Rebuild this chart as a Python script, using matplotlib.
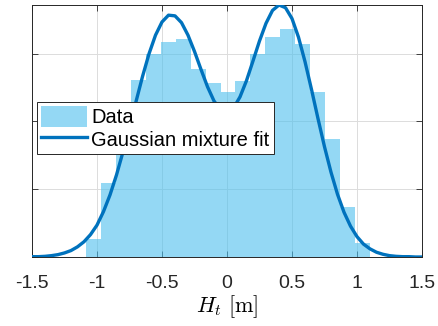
import numpy as np
import matplotlib
matplotlib.use("Agg")
import matplotlib.pyplot as plt

# histogram (probability density), 19 equal bins
bin_start = -1.085
bin_width = 0.115
density = [0.053, 0.217, 0.387, 0.522, 0.598, 0.633, 0.642, 0.554, 0.513, 0.487,
           0.519, 0.598, 0.648, 0.672, 0.628, 0.487, 0.349, 0.147, 0.041]

# Gaussian mixture fit, every 0.05 m
fit_x = [-1.50, -1.45, -1.40, -1.35, -1.30, -1.25, -1.20, -1.15, -1.10, -1.05,
         -1.00, -0.95, -0.90, -0.85, -0.80, -0.75, -0.70, -0.65, -0.60, -0.55,
         -0.50, -0.45, -0.40, -0.35, -0.30, -0.25, -0.20, -0.15, -0.10, -0.05,
         0.00, 0.05, 0.10, 0.15, 0.20, 0.25, 0.30, 0.35, 0.40, 0.45,
         0.50, 0.55, 0.60, 0.65, 0.70, 0.75, 0.80, 0.85, 0.90, 0.95,
         1.00, 1.05, 1.10, 1.15, 1.20, 1.25, 1.30, 1.35, 1.40, 1.45, 1.50]
fit_y = [0.001, 0.001, 0.002, 0.004, 0.007, 0.012, 0.019, 0.030, 0.045, 0.066,
         0.094, 0.134, 0.183, 0.242, 0.310, 0.383, 0.458, 0.532, 0.599, 0.654,
         0.693, 0.713, 0.711, 0.691, 0.654, 0.606, 0.553, 0.502, 0.460, 0.434,
         0.426, 0.439, 0.472, 0.520, 0.578, 0.637, 0.689, 0.727, 0.743, 0.735,
         0.703, 0.648, 0.576, 0.494, 0.408, 0.325, 0.250, 0.185, 0.132, 0.091,
         0.060, 0.038, 0.024, 0.014, 0.008, 0.004, 0.002, 0.001, 0.001, 0.000, 0.000]

x_ticks = [-1.5, -1, -0.5, 0, 0.5, 1, 1.5]
x_labels = ["-1.5", "-1", "-0.5", "0", "0.5", "1", "1.5"]
y_ticks = [0, 0.2, 0.4, 0.6]

plt.rcParams["font.family"] = ["Liberation Sans", "DejaVu Sans"]
plt.rcParams["mathtext.fontset"] = "cm"

fig = plt.figure(figsize=(4.38, 3.26), dpi=100)
ax = fig.add_axes([32 / 438, 1 - 257 / 326, 390 / 438, 252 / 326])

lefts = bin_start + bin_width * np.arange(len(density))
bars = ax.bar(lefts, density, width=bin_width, align="edge", color=(0.3, 0.75, 0.93),
              alpha=0.6, linewidth=0, label="Data", zorder=2)
line, = ax.plot(fit_x, fit_y, color="#0072BD", linewidth=2.4,
                label="Gaussian mixture fit", zorder=3)

ax.set_xlim(-1.5, 1.5)
ax.set_ylim(0, 0.743)
ax.set_xticks(x_ticks)
ax.set_xticklabels(x_labels)
ax.set_yticks(y_ticks)
ax.set_yticklabels([])
ax.tick_params(direction="in", top=True, right=True, length=4, width=0.6,
               color="#262626", labelsize=14, labelcolor="#262626", pad=13)
ax.grid(True, color="#dcdcdc", linewidth=0.7, zorder=0)
ax.set_axisbelow(True)
for s in ax.spines.values():
    s.set_color("#262626")
    s.set_linewidth(0.7)

ax.set_xlabel(r"$H_t\ [\mathrm{m}]$", fontsize=16, labelpad=1)

leg = ax.legend([bars, line], ["Data", "Gaussian mixture fit"], loc="upper left",
                bbox_to_anchor=(5 / 390, 155 / 252), borderaxespad=0, fontsize=14.5,
                frameon=True, fancybox=False, framealpha=1,
                handlelength=2.3, handleheight=1.25, handletextpad=0.2,
                borderpad=0.2, labelspacing=0.05)
leg.get_frame().set_edgecolor("#262626")
leg.get_frame().set_linewidth(0.7)
leg.set_zorder(5)

fig.savefig("out.png", dpi=100)
